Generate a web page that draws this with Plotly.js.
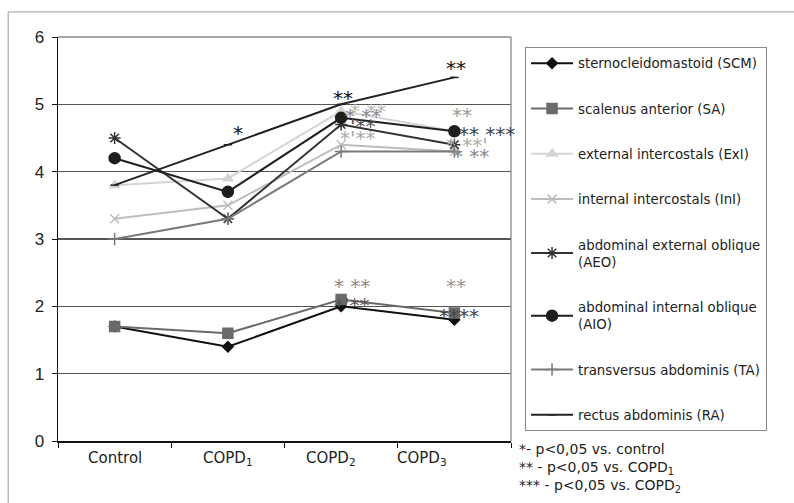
<!DOCTYPE html>
<html><head><meta charset="utf-8">
<script src="https://cdn.plot.ly/plotly-3.0.1.min.js"></script>
<style>html,body{margin:0;padding:0;background:#fff}</style>
</head><body><div id="chart" style="width:794px;height:503px"></div>
<script>
const categories = ["Control", "COPD1", "COPD2", "COPD3"];
const categoryLabels = ["Control", "COPD<sub>1</sub>", "COPD<sub>2</sub>", "COPD<sub>3</sub>"];
const seriesNames = [
  "sternocleidomastoid (SCM)",
  "scalenus anterior (SA)",
  "external intercostals (ExI)",
  "internal intercostals (InI)",
  "abdominal external oblique<br>(AEO)",
  "abdominal internal oblique<br>(AIO)",
  "transversus abdominis (TA)",
  "rectus abdominis (RA)"
];
const SCM = [1.7, 1.4, 2.0, 1.8];
const SA  = [1.7, 1.6, 2.1, 1.9];
const ExI = [3.8, 3.9, 4.9, 4.6];
const InI = [3.3, 3.5, 4.4, 4.3];
const AEO = [4.5, 3.3, 4.7, 4.4];
const AIO = [4.2, 3.7, 4.8, 4.6];
const TA  = [3.0, 3.3, 4.3, 4.3];
const RA  = [3.8, 4.4, 5.0, 5.4];
const yTicks = [0, 1, 2, 3, 4, 5, 6];
const footnotes = ["*- p<0,05 vs. control", "** - p<0,05 vs. COPD<sub>1</sub>", "*** - p<0,05 vs. COPD<sub>2</sub>"];
// significance marks: [category, y, text]
const sigCat  = ["COPD1","COPD2","COPD2","COPD2","COPD2","COPD2","COPD3","COPD3","COPD3","COPD3","COPD3","COPD2","COPD2","COPD3","COPD3"];
const sigY    = [4.62, 5.14, 4.95, 4.87, 4.72, 4.55, 5.59, 4.89, 4.61, 4.44, 4.28, 2.35, 2.07, 2.35, 1.9];
const sigText = ["*", "**", "* **", "* **", "'**", "*'**", "**", "**", "** ***", "* **'", "* **", "* **", "*'**", "**", "****"];

const styles = [
  {c:"#111", sym:"diamond", size:8, lw:2},
  {c:"#6a6a6a", sym:"square", size:10, lw:2},
  {c:"#d4d4d4", sym:"triangle-up", size:9, lw:2},
  {c:"#bdbdbd", sym:"x-thin-open", size:9, lw:2},
  {c:"#333", sym:"asterisk-open", size:10, lw:2},
  {c:"#1e1e1e", sym:"circle", size:11, lw:2},
  {c:"#7a7a7a", sym:"cross-thin-open", size:9, lw:2},
  {c:"#222", sym:"line-ew-open", size:6, lw:2}
];
const values = [SCM, SA, ExI, InI, AEO, AIO, TA, RA];
const traces = values.map((v,i)=>({
  type:"scatter", mode:"lines+markers", x:categories, y:v, name:seriesNames[i],
  legendgroup:"g"+i,
  line:{color:styles[i].c, width:styles[i].lw},
  marker:{symbol:styles[i].sym, size:styles[i].size, color:styles[i].c, line:{color:styles[i].c, width:1.5}}
}));
const sigColors = ["#111","#111","#bbb","#888","#555","#aaa","#111","#999","#444","#aaa","#888","#888","#555","#999","#444"];
const sigShift  = [10, 2, 27, 22, 22, 17, 2, 8, 33, 13, 17, 11, 11, 2, 5];
const annotations = sigText.map((t,i)=>({
  x:sigCat[i], y:sigY[i], xref:"x", yref:"y", text:t, showarrow:false, xshift:sigShift[i], yshift:-3,
  font:{family:"DejaVu Sans", size:20, color:sigColors[i]}
}));
const labelShift = [0, 0, -10, -32];
categories.forEach((c,i)=>annotations.push({
  x:c, y:-0.015, xref:"x", yref:"paper", yanchor:"top", text:categoryLabels[i], showarrow:false,
  xshift:labelShift[i], font:{family:"DejaVu Sans", size:15, color:"#222"}
}));
footnotes.forEach((t,i)=>annotations.push({
  x:1.013, y:0.006-0.0446*i, xref:"paper", yref:"paper", xanchor:"left", yanchor:"top",
  text:t, showarrow:false, font:{family:"DejaVu Sans", size:14, color:"#222"}
}));
const layout = {
  width:794, height:503,
  margin:{l:58, r:283, t:37, b:62},
  paper_bgcolor:"#fff", plot_bgcolor:"#fff",
  showlegend:true,
  legend:{x:1.031, y:0.975, xanchor:"left", yanchor:"top", bordercolor:"#888", borderwidth:1,
    font:{family:"DejaVu Sans", size:13.3, color:"#222"}, tracegroupgap:25, itemwidth:42},
  xaxis:{type:"category", range:[-0.5,3.5], showticklabels:false, tickson:"boundaries",
    ticks:"outside", ticklen:5, tickcolor:"#111", showline:true, linecolor:"#111", linewidth:1.5,
    showgrid:false, zeroline:false, fixedrange:true},
  yaxis:{range:[0,6], tickvals:yTicks, ticks:"outside", ticklen:5, tickcolor:"#111",
    showline:true, linecolor:"#111", linewidth:1.5, gridcolor:"#555", gridwidth:1.3, zeroline:false,
    tickfont:{family:"Liberation Sans", size:17, color:"#222"}, ticklabelstandoff:4},
  shapes:[
    {type:"line", xref:"paper", yref:"paper", x0:1, x1:1, y0:0, y1:1, line:{color:"#888", width:1.3}},
    {type:"line", xref:"paper", yref:"paper", x0:0, x1:1, y0:1, y1:1, line:{color:"#888", width:1.3}},
    {type:"line", xref:"paper", yref:"paper", x0:-0.110, x1:-0.110, y0:1.062, y1:-0.2, line:{color:"#999", width:1}},
    {type:"line", xref:"paper", yref:"paper", x0:-0.110, x1:1.7, y0:1.062, y1:1.062, line:{color:"#999", width:1}}
  ],
  annotations:annotations
};
Plotly.newPlot("chart", traces, layout, {displayModeBar:false, staticPlot:true});
</script></body></html>
